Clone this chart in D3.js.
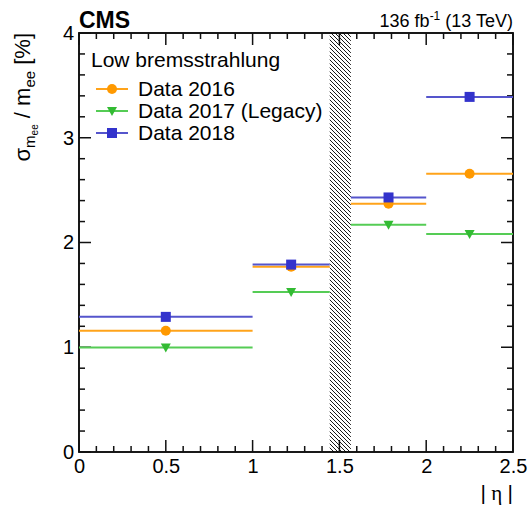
<!DOCTYPE html>
<html>
<head>
<meta charset="utf-8">
<script src="https://cdn.jsdelivr.net/npm/d3@7"></script>
<style>
  body { margin: 0; background: #fff; }
  svg { font-family: "Liberation Sans", Arial, sans-serif; }
</style>
</head>
<body>
<svg width="529" height="508"></svg>
<script>
// bins in |eta| (ECAL barrel / endcap, gap 1.4442 - 1.566 excluded)
var binLo = [0, 1, 1.566, 2],
    binHi = [1, 1.4442, 2, 2.5],
    binMid = [0.5, 1.222, 1.783, 2.25];

var data2016 = [1.157, 1.768, 2.37, 2.657],
    data2017 = [0.998, 1.528, 2.17, 2.08],
    data2018 = [1.29, 1.789, 2.43, 3.39];

var xTicks = [0, 0.5, 1, 1.5, 2, 2.5],
    yTicks = [0, 1, 2, 3, 4];

var gap = [1.4442, 1.566];

var series = [
  {name: "Data 2016", values: data2016, color: "#ff9900", line: "#ffa31a", shape: "circle"},
  {name: "Data 2017 (Legacy)", values: data2017, color: "#33bb33", line: "#55cc55", shape: "triangle"},
  {name: "Data 2018", values: data2018, color: "#3333cc", line: "#5555cc", shape: "square"}
];

var svg = d3.select("svg"),
    margin = {top: 33, right: 16, bottom: 56, left: 79},
    width = +svg.attr("width") - margin.left - margin.right,
    height = +svg.attr("height") - margin.top - margin.bottom;

var x = d3.scaleLinear().domain([0, 2.5]).range([0, width]),
    y = d3.scaleLinear().domain([0, 4]).range([height, 0]);

var defs = svg.append("defs");
defs.append("pattern")
    .attr("id", "hatch")
    .attr("patternUnits", "userSpaceOnUse")
    .attr("width", 4).attr("height", 4)
  .append("path")
    .attr("d", "M-1,-1 L5,5 M-1,3 L1,5 M3,-1 L5,1")
    .attr("stroke", "#000")
    .attr("stroke-width", 0.9);

var g = svg.append("g")
    .attr("transform", "translate(" + margin.left + "," + margin.top + ")");

// excluded barrel-endcap transition
g.append("rect")
    .attr("x", x(gap[0]))
    .attr("y", 0)
    .attr("width", x(gap[1]) - x(gap[0]))
    .attr("height", height)
    .attr("fill", "url(#hatch)");

// frame
g.append("rect")
    .attr("width", width).attr("height", height)
    .attr("fill", "none").attr("stroke", "#000").attr("stroke-width", 1.8);

// ticks, ROOT style: inside the frame, mirrored on top and right (filled rects)
var xMinor = d3.range(0, 26).map(function(i) { return i / 10; }),
    yMinor = d3.range(0, 21).map(function(i) { return i / 5; });

var tickData = [];
xMinor.forEach(function(d) {
  var len = Math.abs(d * 2 - Math.round(d * 2)) < 1e-6 ? 12 : 6;
  tickData.push({x: x(d) - 0.75, y: height - len, w: 1.5, h: len});
  tickData.push({x: x(d) - 0.75, y: 0, w: 1.5, h: len});
});
yMinor.forEach(function(d) {
  var len = Math.abs(d - Math.round(d)) < 1e-6 ? 12 : 6;
  tickData.push({x: 0, y: y(d) - 0.75, w: len, h: 1.5});
  tickData.push({x: width - len, y: y(d) - 0.75, w: len, h: 1.5});
});
g.append("g")
    .attr("class", "ticks")
  .selectAll("rect")
  .data(tickData)
  .enter().append("rect")
    .attr("x", function(d) { return d.x; })
    .attr("y", function(d) { return d.y; })
    .attr("width", function(d) { return d.w; })
    .attr("height", function(d) { return d.h; })
    .attr("fill", "#111");

// tick labels
g.append("g")
    .attr("transform", "translate(0," + height + ")")
    .call(d3.axisBottom(x).tickValues(xTicks).tickSize(0).tickPadding(7)
      .tickFormat(d3.format("")))
    .call(function(a) {
      a.select(".domain").remove();
      a.selectAll("text").attr("font-size", 20).attr("fill", "#000")
        .attr("font-family", "Liberation Sans, Arial, sans-serif");
    });
g.append("g")
    .call(d3.axisLeft(y).tickValues(yTicks).tickSize(0).tickPadding(5)
      .tickFormat(d3.format("d")))
    .call(function(a) {
      a.select(".domain").remove();
      a.selectAll("text").attr("font-size", 20).attr("fill", "#000")
        .attr("font-family", "Liberation Sans, Arial, sans-serif");
    });

// series: horizontal bars for bin width + marker
function drawMarker(sel, shape, color) {
  if (shape === "circle") {
    sel.append("circle").attr("r", 5).attr("fill", color);
  } else if (shape === "square") {
    sel.append("rect").attr("x", -5).attr("y", -5).attr("width", 10).attr("height", 10).attr("fill", color);
  } else {
    sel.append("path").attr("d", "M-5,-4 L5,-4 L0,5 Z").attr("fill", color);
  }
}

series.forEach(function(s) {
  var sg = g.append("g");
  sg.selectAll("line")
    .data(s.values)
    .enter().append("line")
      .attr("x1", function(d, i) { return x(binLo[i]); })
      .attr("x2", function(d, i) { return x(binHi[i]); })
      .attr("y1", function(d) { return y(d); })
      .attr("y2", function(d) { return y(d); })
      .attr("stroke", s.line)
      .attr("stroke-width", 2);
  sg.selectAll("g.pt")
    .data(s.values)
    .enter().append("g")
      .attr("class", "pt")
      .attr("transform", function(d, i) { return "translate(" + x(binMid[i]) + "," + y(d) + ")"; })
      .each(function() { drawMarker(d3.select(this), s.shape, s.color); });
});

// legend
var leg = g.append("g").attr("transform", "translate(12,0)");
leg.append("text")
    .attr("x", 0).attr("y", 34)
    .attr("font-size", 21)
    .text("Low bremsstrahlung");
var rows = leg.selectAll("g.row")
    .data(series)
    .enter().append("g")
      .attr("class", "row")
      .attr("transform", function(d, i) { return "translate(0," + (56 + i * 22) + ")"; });
rows.append("line")
    .attr("x1", 5).attr("x2", 37)
    .attr("stroke", function(d) { return d.line; })
    .attr("stroke-width", 2);
rows.append("g")
    .attr("transform", "translate(21,0)")
    .each(function(d) { drawMarker(d3.select(this), d.shape, d.color); });
rows.append("text")
    .attr("x", 47).attr("y", 7)
    .attr("font-size", 21)
    .text(function(d) { return d.name; });

// header
svg.append("text")
    .attr("x", margin.left).attr("y", 28)
    .attr("font-size", 23).attr("font-weight", "bold")
    .text("CMS");
var lumi = svg.append("text")
    .attr("x", margin.left + width).attr("y", 27)
    .attr("text-anchor", "end")
    .attr("font-size", 18);
lumi.append("tspan").text("136 fb");
lumi.append("tspan").attr("font-size", 12).attr("dy", -7).text("-1");
lumi.append("tspan").attr("dy", 7).text(" (13 TeV)");

// x title
var xt = svg.append("text")
    .attr("x", margin.left + width).attr("y", 500)
    .attr("text-anchor", "end")
    .attr("font-size", 21);
xt.append("tspan").text("|");
xt.append("tspan").attr("font-family", "Liberation Serif, serif").text(" η ");
xt.append("tspan").text("|");

// y title
var yt = svg.append("text")
    .attr("transform", "translate(30," + margin.top + ") rotate(-90)")
    .attr("text-anchor", "end")
    .attr("font-size", 22);
yt.append("tspan").text("σ");
yt.append("tspan").attr("font-size", 15).attr("dy", 5).text("m");
yt.append("tspan").attr("font-size", 10).attr("dy", 3).text("ee");
yt.append("tspan").attr("dy", -8).text(" / m");
yt.append("tspan").attr("font-size", 15).attr("dy", 5).text("ee");
yt.append("tspan").attr("dy", -5).text(" [%]");
</script>
</body>
</html>
